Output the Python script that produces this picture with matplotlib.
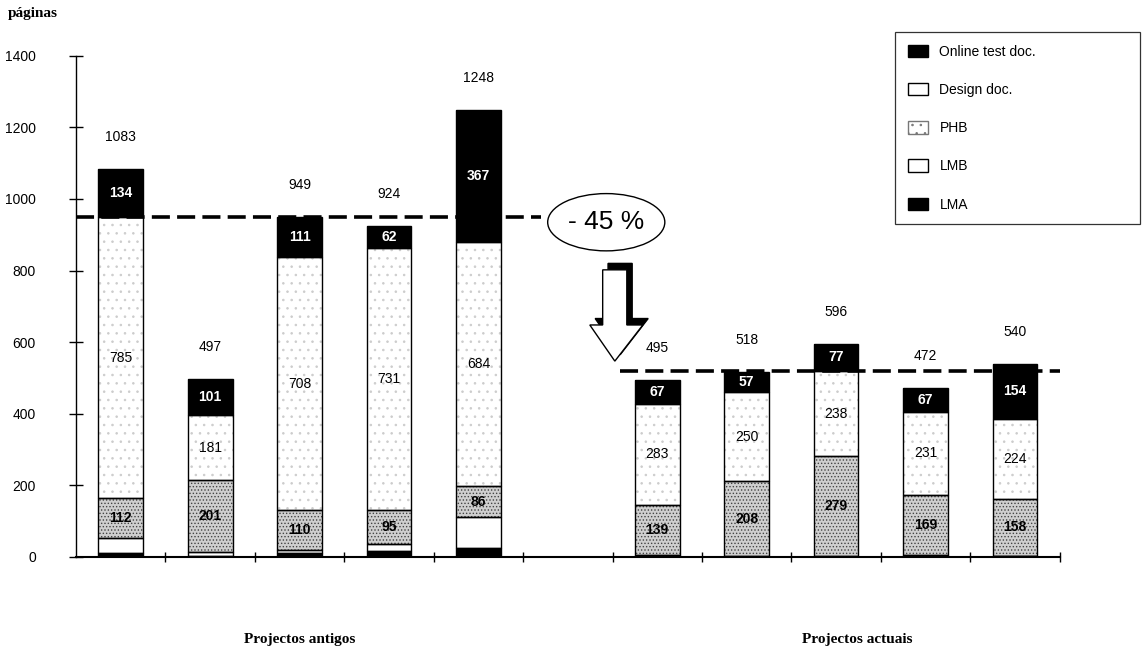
import numpy as np
import matplotlib
matplotlib.use("Agg")
import matplotlib.pyplot as plt
from matplotlib.patches import Ellipse, Polygon, Patch

plt.rcParams['font.family'] = ['Liberation Sans', 'DejaVu Sans']
plt.rcParams['hatch.linewidth'] = 0.6

# pages per project, stacked bottom -> top
pos = [0, 1, 2, 3, 4, 6, 7, 8, 9, 10]
lma = [10, 3, 12, 16, 26, 2, 1, 1, 2, 2]
lmb = [42, 11, 8, 20, 85, 4, 2, 1, 3, 2]
phb = [112, 201, 110, 95, 86, 139, 208, 279, 169, 158]
design = [785, 181, 708, 731, 684, 283, 250, 238, 231, 224]
online = [134, 101, 111, 62, 367, 67, 57, 77, 67, 154]
totals = [1083, 497, 949, 924, 1248, 495, 518, 596, 472, 540]

old_level = 949
new_level = 520
groups = ["Projectos antigos", "Projectos actuais"]

fig = plt.figure(figsize=(11.45, 6.56), dpi=100)
ax = fig.add_axes([0.0664, 0.151, 0.859, 0.764])

w = 0.5
lma = np.array(lma); lmb = np.array(lmb); phb = np.array(phb)
design = np.array(design); online = np.array(online)

b0 = np.zeros(len(pos))
b1 = lma
b2 = b1 + lmb
b3 = b2 + phb
b4 = b3 + design

# fills (hatch colour comes from edgecolor, so outlines are drawn separately)
ax.bar(pos, lma, w, bottom=b0, color='black', linewidth=0)
ax.bar(pos, lmb, w, bottom=b1, color='white', linewidth=0)
ax.bar(pos, phb, w, bottom=b2, color='#cfcfcf', edgecolor='#444444', hatch='.....', linewidth=0)
ax.bar(pos, design, w, bottom=b3, color='white', edgecolor='#cccccc', hatch='..', linewidth=0)
ax.bar(pos, online, w, bottom=b4, color='black', linewidth=0)
for h, b in [(lma, b0), (lmb, b1), (phb, b2), (design, b3), (online, b4)]:
    ax.bar(pos, h, w, bottom=b, fill=False, edgecolor='black', linewidth=1.0)

for i, x in enumerate(pos):
    ax.text(x, b4[i] + online[i] / 2, str(online[i]), color='white', ha='center',
            va='center', fontsize=10, fontweight='bold')
    ax.text(x, b3[i] + design[i] / 2, str(design[i]), color='black', ha='center',
            va='center', fontsize=10)
    ax.text(x, b2[i] + phb[i] / 2, str(phb[i]), color='black', ha='center',
            va='center', fontsize=10, fontweight='bold')
    ax.annotate(str(totals[i]), (x, totals[i]), xytext=(0, 23), textcoords='offset points',
                ha='center', va='center', fontsize=10)

# reference levels
ax.plot([-0.5, 4.7], [old_level, old_level], color='black', lw=2.6, ls=(0, (5, 2)),
        solid_capstyle='butt', clip_on=False, zorder=5)
ax.plot([5.58, 10.5], [new_level, new_level], color='black', lw=2.6, ls=(0, (5, 2)),
        solid_capstyle='butt', clip_on=False, zorder=5)

ax.add_patch(Ellipse((5.43, 935), 1.31, 160, fill=False, edgecolor='black', lw=1.0, zorder=6))
ax.text(5.43, 935, "- 45 %", ha='center', va='center', fontsize=19, zorder=7)

# down arrow with a dark offset shadow
arrow = np.array([[5.39, 802], [5.66, 802], [5.66, 648], [5.839, 648],
                  [5.526, 547], [5.246, 648], [5.39, 648]])
ax.add_patch(Polygon(arrow + [0.06, 18], closed=True, facecolor='black',
                     edgecolor='black', lw=1, zorder=6))
ax.add_patch(Polygon(arrow, closed=True, facecolor='white', edgecolor='black', lw=1, zorder=7))

ax.set_xlim(-0.5, 10.5)
ax.set_ylim(0, 1400)
ax.set_yticks(range(0, 1401, 200))
ax.tick_params(axis='y', direction='inout', length=10, width=1, labelsize=10, pad=24)
ax.set_xticks(np.arange(0.5, 10.6, 1))
ax.set_xticklabels([])
ax.tick_params(axis='x', direction='inout', length=7, width=1)
for s in ['top', 'right']:
    ax.spines[s].set_visible(False)
ax.spines['bottom'].set_linewidth(1.5)
ax.spines['left'].set_linewidth(1.0)

serif = ['Liberation Serif', 'DejaVu Serif']
fig.text(8 / 1145, 1 - 14 / 656, "páginas", family=serif,
         fontweight='bold', fontsize=11, va='center', ha='left')
fig.text(300 / 1145, 1 - 640 / 656, groups[0], family=serif,
         fontweight='bold', fontsize=11, va='center', ha='center')
fig.text(857 / 1145, 1 - 640 / 656, groups[1], family=serif,
         fontweight='bold', fontsize=11, va='center', ha='center')

handles = [Patch(facecolor='black', edgecolor='black', label='Online test doc.'),
           Patch(facecolor='white', edgecolor='black', label='Design doc.'),
           Patch(facecolor='white', edgecolor='#777777', hatch='..', label='PHB'),
           Patch(facecolor='white', edgecolor='black', label='LMB'),
           Patch(facecolor='black', edgecolor='black', label='LMA')]
leg = fig.legend(handles=handles, loc='upper left',
                 bbox_to_anchor=(895 / 1145, 1 - 32 / 656, 245 / 1145, 0.0),
                 mode='expand', fontsize=10, frameon=True, fancybox=False,
                 edgecolor='black', handlelength=1.5, handleheight=1.0,
                 labelspacing=1.75, borderpad=0.9, borderaxespad=0, handletextpad=0.8)
leg.get_frame().set_linewidth(0.9)

fig.savefig("out.png", dpi=100)
